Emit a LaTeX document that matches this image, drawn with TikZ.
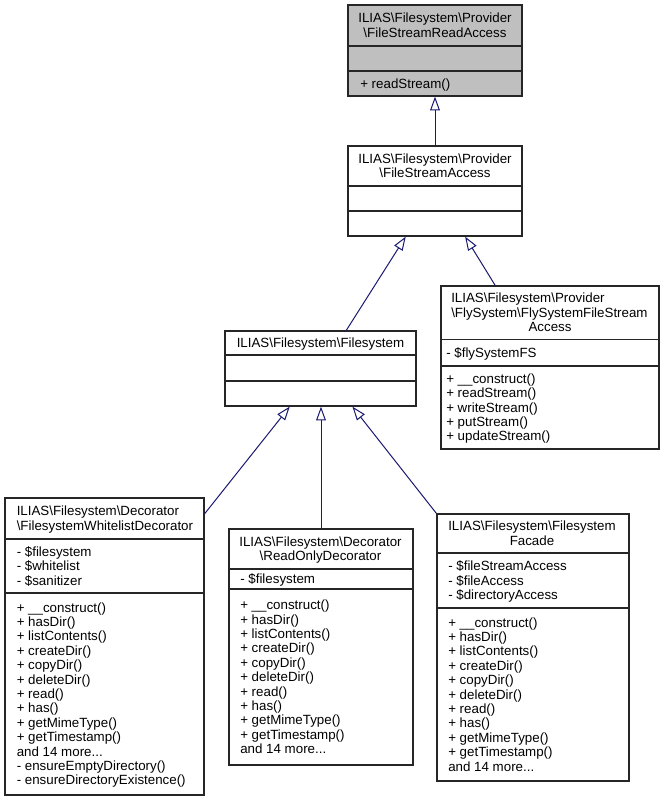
\documentclass[tikz,border=0pt]{standalone}
\usepackage{fontspec}
\setmainfont{Liberation Sans}
\usetikzlibrary{arrows.meta,fit,calc}
\definecolor{edgeblue}{HTML}{191970}
\definecolor{headgray}{HTML}{BFBFBF}
\newcommand{\lstr}{\rule[-1.9pt]{0pt}{10.8pt}}
\newcommand{\bsl}{\textbackslash}
\newcommand{\umlfont}{\fontsize{10}{10.8}\selectfont\lineskiplimit=-100pt\relax\lineskip=0pt\relax}
\begin{document}
\begin{tikzpicture}[x=0.75pt,y=-0.75pt,
  umlbox/.style={draw=black!85, line width=0.9pt, inner sep=0pt, fill=white},
  sepline/.style={draw=black!85, line width=0.9pt},
  txt/.style={inner sep=0pt, font=\umlfont},
  ltxt/.style={txt, anchor=west, align=left},
  ctxt/.style={txt, anchor=center, align=center},
  inh/.style={draw=edgeblue, line width=0.75pt, -{Triangle[open, length=10.3pt, width=7.3pt, fill=white]}}]
\useasboundingbox (0,0) rectangle (665,801);

% ---- boxes ----
\node[umlbox, fill=headgray, fit={(348,5) (522,96)}] (b1) {};
\node[umlbox, fit={(348,146) (522,236)}] (b2) {};
\node[umlbox, fit={(225,331) (416,406)}] (b3) {};
\node[umlbox, fit={(441,286) (659,449)}] (b4) {};
\node[umlbox, fit={(5,498) (204,795)}] (b5) {};
\node[umlbox, fit={(229,529) (413,765)}] (b6) {};
\node[umlbox, fit={(437,514) (629,781)}] (b7) {};

% ---- separators ----
\draw[sepline] (b1.west |- 0,46) -- (b1.east |- 0,46);
\draw[sepline] (b1.west |- 0,71) -- (b1.east |- 0,71);
\draw[sepline] (b2.west |- 0,186) -- (b2.east |- 0,186);
\draw[sepline] (b2.west |- 0,211) -- (b2.east |- 0,211);
\draw[sepline] (b3.west |- 0,355) -- (b3.east |- 0,355);
\draw[sepline] (b3.west |- 0,381) -- (b3.east |- 0,381);
\draw[sepline] (b4.west |- 0,339.5) -- (b4.east |- 0,339.5);
\draw[sepline] (b4.west |- 0,366) -- (b4.east |- 0,366);
\draw[sepline] (b5.west |- 0,539) -- (b5.east |- 0,539);
\draw[sepline] (b5.west |- 0,593) -- (b5.east |- 0,593);
\draw[sepline] (b6.west |- 0,569) -- (b6.east |- 0,569);
\draw[sepline] (b6.west |- 0,589) -- (b6.east |- 0,589);
\draw[sepline] (b7.west |- 0,553) -- (b7.east |- 0,553);
\draw[sepline] (b7.west |- 0,608) -- (b7.east |- 0,608);

% ---- texts ----
\node[ctxt] (t1) at (435,25.5) {\lstr ILIAS\bsl{}Filesystem\bsl{}Provider\\\lstr\bsl{}FileStreamReadAccess};
\node[ltxt] (m1) at (360,83.5) {\lstr + readStream()};

\node[ctxt] (t2) at (435,166) {\lstr ILIAS\bsl{}Filesystem\bsl{}Provider\\\lstr\bsl{}FileStreamAccess};

\node[ctxt] (t3) at (320.5,343) {\lstr ILIAS\bsl{}Filesystem\bsl{}Filesystem};

\node[ltxt] (t4) at (451,312.7) {\lstr ILIAS\bsl{}Filesystem\bsl{}Provider\\\lstr\bsl{}FlySystem\bsl{}FlySystemFileStream\\\lstr\hspace*{58pt}Access};
\node[ltxt] (a4) at (446,352.7) {\lstr - \$flySystemFS};
\node[ltxt] (m4) at (446,407.5) {\lstr + \_\_construct()\\\lstr + readStream()\\\lstr + writeStream()\\\lstr + putStream()\\\lstr + updateStream()};

\node[ltxt] (t5) at (16.5,518.5) {\lstr ILIAS\bsl{}Filesystem\bsl{}Decorator\\\lstr\bsl{}FilesystemWhitelistDecorator};
\node[ltxt] (a5) at (16.5,566) {\lstr - \$filesystem\\\lstr - \$whitelist\\\lstr - \$sanitizer};
\node[ltxt] (m5) at (16.5,694) {\lstr + \_\_construct()\\\lstr + hasDir()\\\lstr + listContents()\\\lstr + createDir()\\\lstr + copyDir()\\\lstr + deleteDir()\\\lstr + read()\\\lstr + has()\\\lstr + getMimeType()\\\lstr + getTimestamp()\\\lstr and 14 more...\\\lstr - ensureEmptyDirectory()\\\lstr - ensureDirectoryExistence()};

\node[ctxt] (t6) at (320.5,549) {\lstr ILIAS\bsl{}Filesystem\bsl{}Decorator\\\lstr\bsl{}ReadOnlyDecorator};
\node[ltxt] (a6) at (240,579) {\lstr - \$filesystem};
\node[ltxt] (m6) at (240,677) {\lstr + \_\_construct()\\\lstr + hasDir()\\\lstr + listContents()\\\lstr + createDir()\\\lstr + copyDir()\\\lstr + deleteDir()\\\lstr + read()\\\lstr + has()\\\lstr + getMimeType()\\\lstr + getTimestamp()\\\lstr and 14 more...};

\node[ctxt] (t7) at (532,533.5) {\lstr ILIAS\bsl{}Filesystem\bsl{}Filesystem\\\lstr Facade};
\node[ltxt] (a7) at (448,580.5) {\lstr - \$fileStreamAccess\\\lstr - \$fileAccess\\\lstr - \$directoryAccess};
\node[ltxt] (m7) at (448,694.5) {\lstr + \_\_construct()\\\lstr + hasDir()\\\lstr + listContents()\\\lstr + createDir()\\\lstr + copyDir()\\\lstr + deleteDir()\\\lstr + read()\\\lstr + has()\\\lstr + getMimeType()\\\lstr + getTimestamp()\\\lstr and 14 more...};

% ---- inheritance arrows ----
\draw[inh] (b2.north) -- (b1.south);
\draw[inh] ($(b4.north west)!0.25!(b4.north east)$) -- ($(b2.south west)!0.672!(b2.south east)$);
\draw[inh] ($(b3.north west)!0.634!(b3.north east)$) -- ($(b2.south west)!0.333!(b2.south east)$);
\draw[inh] ($(b5.north east)!0.055!(b5.south east)$) -- ($(b3.south west)!0.34!(b3.south east)$);
\draw[inh] (b6.north) -- (b6.north |- b3.south);
\draw[inh] (b7.north west) -- ($(b3.south west)!0.666!(b3.south east)$);
\end{tikzpicture}
\end{document}
